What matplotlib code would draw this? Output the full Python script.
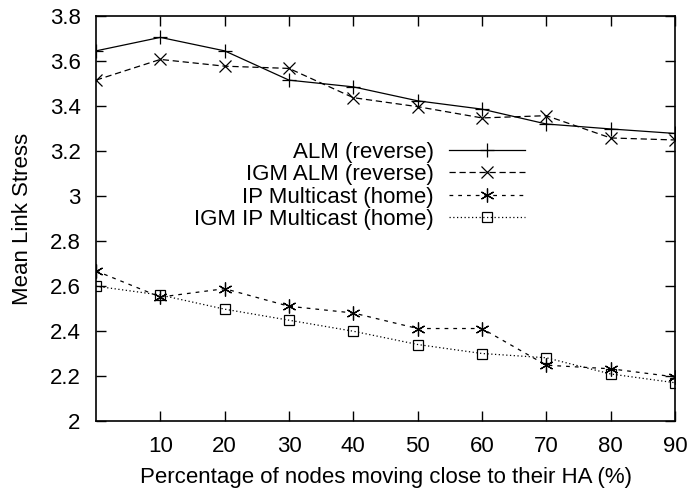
import matplotlib
matplotlib.use("Agg")
import matplotlib.pyplot as plt

plt.rcParams['font.family'] = ['Liberation Sans', 'DejaVu Sans']

x = [0, 10, 20, 30, 40, 50, 60, 70, 80, 90]
alm = [3.645, 3.705, 3.645, 3.515, 3.485, 3.423, 3.386, 3.32, 3.298, 3.278]
igm_alm = [3.515, 3.607, 3.577, 3.567, 3.437, 3.397, 3.347, 3.357, 3.258, 3.249]
ipm = [2.667, 2.551, 2.588, 2.510, 2.480, 2.411, 2.411, 2.248, 2.232, 2.196]
igm_ipm = [2.599, 2.560, 2.497, 2.448, 2.399, 2.340, 2.300, 2.281, 2.209, 2.170]
labels = ["ALM (reverse)", "IGM ALM (reverse)", "IP Multicast (home)", "IGM IP Multicast (home)"]
xticks = [10, 20, 30, 40, 50, 60, 70, 80, 90]
yticks = [2, 2.2, 2.4, 2.6, 2.8, 3, 3.2, 3.4, 3.6, 3.8]
ytick_labels = ['2', '2.2', '2.4', '2.6', '2.8', '3', '3.2', '3.4', '3.6', '3.8']

FS = 16

fig = plt.figure(figsize=(6.88, 4.91), dpi=100)
ax = fig.add_axes([96/688, 70/491, (675-96)/688, (421-16)/491])

lw = 0.9
ax.plot(x, alm, color='black', lw=lw, ls='-', marker='+', ms=10, mew=0.9, label=labels[0])
ax.plot(x, igm_alm, color='black', lw=lw, ls=(0, (5, 3)), marker='x', ms=9, mew=0.9, label=labels[1])
ax.plot(x, ipm, color='black', lw=lw, ls=(0, (3, 4)), marker=(6, 2, 0), ms=10, mew=0.9, label=labels[2])
ax.plot(x, igm_ipm, color='black', lw=lw, ls=(0, (1, 2)), marker='s', ms=7.5, mew=0.9, mfc='none', label=labels[3])

ax.set_xlim(0, 90)
ax.set_ylim(2, 3.8)
ax.set_xticks(xticks)
ax.set_yticks(yticks)
ax.set_yticklabels(ytick_labels)
ax.tick_params(direction='in', top=True, right=True, length=7, width=1, labelsize=FS)
ax.tick_params(axis='x', pad=11)
ax.tick_params(axis='y', pad=11)
for s in ax.spines.values():
    s.set_linewidth(1.2)

ax.set_xlabel("Percentage of nodes moving close to their HA (%)", fontsize=FS, labelpad=7)
ax.set_ylabel("Mean Link Stress", fontsize=FS, labelpad=12)

leg = ax.legend(loc='upper right', bbox_to_anchor=(0.741, 0.69), frameon=False, markerfirst=False,
                handlelength=3.4, fontsize=FS, labelspacing=0.07, handletextpad=0.7,
                borderaxespad=0, borderpad=0)
for t in leg.get_texts():
    t.set_ha('right')
leg._legend_box.align = "right"

fig.savefig("out.png", dpi=100)
